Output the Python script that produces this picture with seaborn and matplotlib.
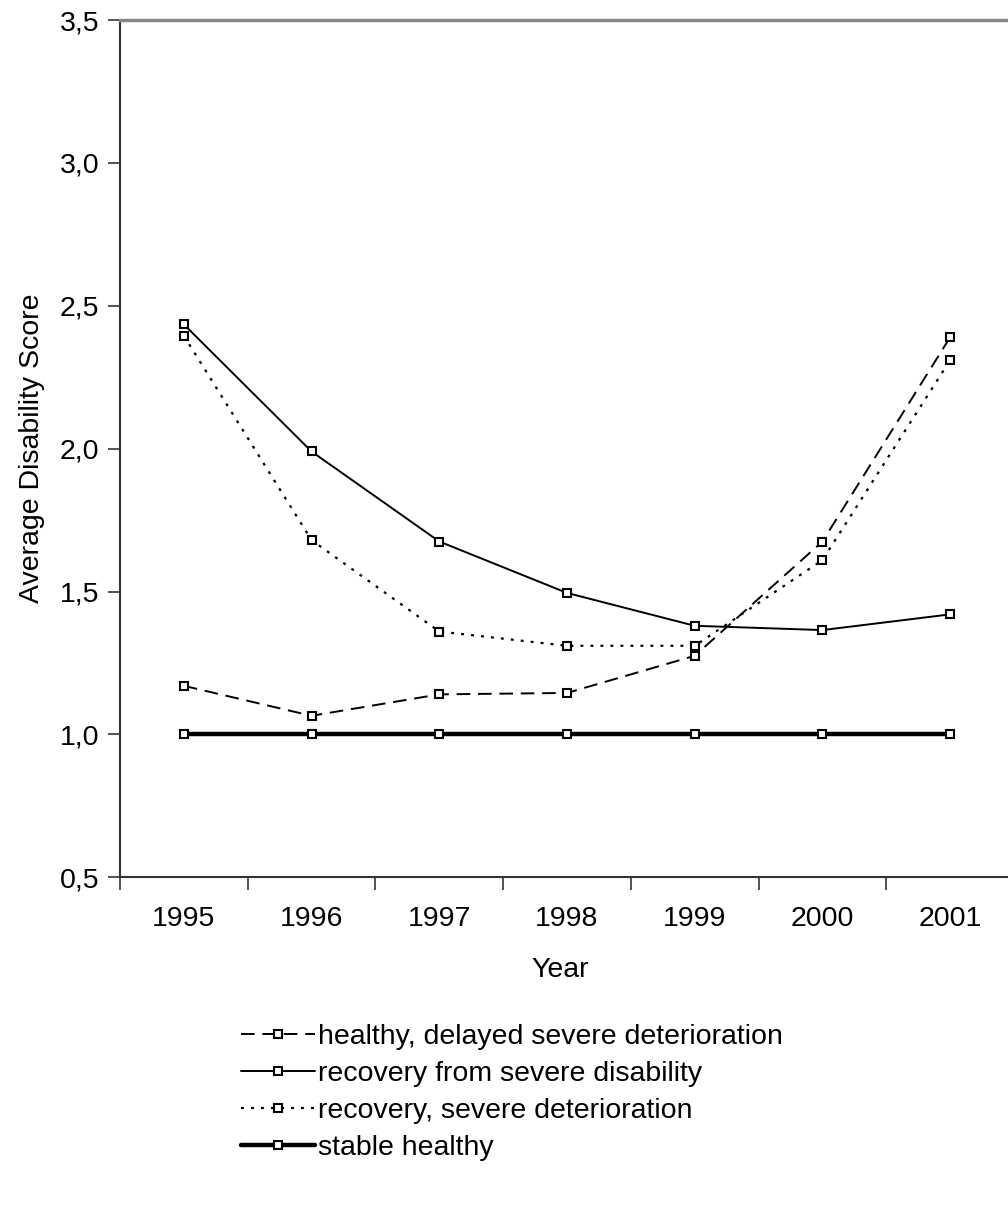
import pandas as pd
import seaborn as sns
import matplotlib.pyplot as plt
from matplotlib.ticker import FixedLocator, FuncFormatter

# Chart values
years = ["1995", "1996", "1997", "1998", "1999", "2000", "2001"]
healthy_delayed = [1.17, 1.065, 1.14, 1.145, 1.275, 1.675, 2.39]
recovery_severe = [2.435, 1.99, 1.675, 1.495, 1.38, 1.365, 1.42]
recovery_deterioration = [2.395, 1.68, 1.36, 1.31, 1.31, 1.61, 2.31]
stable_healthy = [1.0, 1.0, 1.0, 1.0, 1.0, 1.0, 1.0]
series_names = [
    "healthy, delayed severe deterioration",
    "recovery from severe disability",
    "recovery, severe deterioration",
    "stable healthy",
]

sns.set_style("white")
plt.rcParams["font.family"] = ["Liberation Sans", "DejaVu Sans"]
plt.rcParams["text.color"] = "black"
plt.rcParams["axes.labelcolor"] = "black"
plt.rcParams["xtick.labelcolor"] = "black"
plt.rcParams["ytick.labelcolor"] = "black"

fig = plt.figure(figsize=(10.08, 12.15), dpi=100)
ax = fig.add_axes([0.119, 0.278, 0.887, 0.7055])

x = list(range(len(years)))
styles = [
    dict(linestyle=(0, (7, 4)), linewidth=1.4),
    dict(linestyle="-", linewidth=1.4),
    dict(linestyle=(0, (1.3, 3.2)), linewidth=1.6),
    dict(linestyle="-", linewidth=3.2),
]
all_values = [healthy_delayed, recovery_severe, recovery_deterioration, stable_healthy]

for name, vals, st in zip(series_names, all_values, styles):
    sns.lineplot(
        x=x,
        y=vals,
        ax=ax,
        color="black",
        marker="s",
        markersize=5.5,
        markerfacecolor="white",
        markeredgecolor="black",
        markeredgewidth=1.5,
        label=name,
        **st,
    )

ax.set_xlim(-0.5, 6.5)
ax.set_ylim(0.5, 3.5)

# Category ticks between years, labels centred on years
ax.set_xticks(x)
ax.set_xticklabels(years)
ax.xaxis.set_minor_locator(FixedLocator([i + 0.5 for i in range(-1, 7)]))
ax.tick_params(axis="x", which="major", length=0, pad=21, labelsize=20.5)
ax.tick_params(axis="x", which="minor", length=9, width=1.3, color="#444444",
               bottom=True, direction="out")

ax.set_yticks([0.5, 1.0, 1.5, 2.0, 2.5, 3.0, 3.5])
ax.yaxis.set_major_formatter(FuncFormatter(lambda v, p: f"{v:.1f}".replace(".", ",")))
ax.tick_params(axis="y", length=9, width=1.3, color="#444444", left=True,
               direction="out", labelsize=20.5, pad=6)

for side in ["left", "bottom"]:
    ax.spines[side].set_color("#333333")
    ax.spines[side].set_linewidth(1.5)
ax.spines["top"].set_color("#888888")
ax.spines["top"].set_linewidth(2.5)
ax.spines["right"].set_visible(False)

ax.set_xlabel("Year", fontsize=20.5)
ax.xaxis.set_label_coords(0.492, -0.093)
ax.set_ylabel("Average Disability Score", fontsize=20.5)
ax.yaxis.set_label_coords(-0.084, 0.5)

ax.legend(
    loc="upper left",
    bbox_to_anchor=(0.225, 0.169),
    bbox_transform=fig.transFigure,
    frameon=False,
    fontsize=20.5,
    handlelength=2.6,
    handletextpad=0.1,
    labelspacing=0.39,
    borderpad=0,
)

plt.savefig("out.png", dpi=100)
